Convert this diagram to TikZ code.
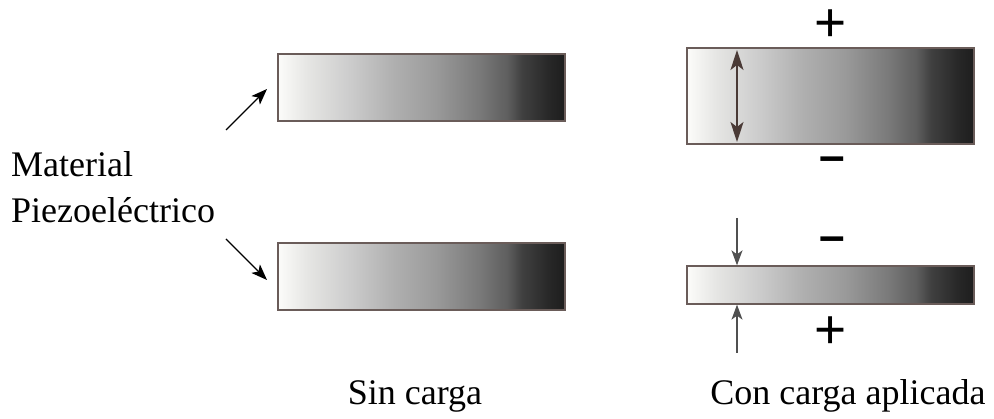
\documentclass[tikz,border=0pt]{standalone}
\usepackage{fontspec}
\setmainfont{Liberation Serif}
\newfontfamily\serifx{Liberation Serif}
\newfontfamily\signfont{Liberation Sans}
\usetikzlibrary{arrows.meta}
\definecolor{g0}{HTML}{FCFCFA}
\definecolor{g1}{HTML}{E6E6E4}
\definecolor{g2}{HTML}{CCCCCC}
\definecolor{g3}{HTML}{B0B0B0}
\definecolor{g4}{HTML}{9A9A9A}
\definecolor{g5}{HTML}{7A7A7A}
\definecolor{g6}{HTML}{5E5E5E}
\definecolor{g7}{HTML}{404040}
\definecolor{g8}{HTML}{262626}
\definecolor{g9}{HTML}{1E1E1E}
\definecolor{edge}{HTML}{6A5C59}
\definecolor{darr}{HTML}{4A3A36}
\definecolor{garr}{HTML}{505050}
\pgfdeclarehorizontalshading{piezo}{100bp}{color(0bp)=(g0); color(25bp)=(g0); color(30bp)=(g1); color(37.5bp)=(g2); color(45bp)=(g3); color(52.5bp)=(g4); color(60bp)=(g5); color(65bp)=(g6); color(67.5bp)=(g7); color(72.5bp)=(g8); color(75bp)=(g9); color(100bp)=(g9)}
\tikzset{
  bar/.style={rectangle, draw=edge, line width=1.3pt, shading=piezo, inner sep=0pt, minimum width=287pt},
  lbl/.style={font=\serifx\fontsize{36}{43}\selectfont, inner sep=0pt, anchor=base},
  sign/.style={font=\signfont\fontsize{55}{55}\selectfont, inner sep=0pt},
  msign/.style={font=\signfont\bfseries\fontsize{46}{46}\selectfont, inner sep=0pt},
  ptr/.style={-{Stealth[length=16pt,width=12pt,inset=4pt]}, line width=1.3pt, black},
  dbl/.style={{Stealth[length=20pt,width=13pt,inset=5pt]}-{Stealth[length=20pt,width=13pt,inset=5pt]}, line width=1.6pt, darr},
  press/.style={-{Stealth[length=15pt,width=11pt,inset=4pt]}, line width=1.3pt, garr}
}
\begin{document}
\begin{tikzpicture}[x=1pt,y=-1pt]
\useasboundingbox (0,0) rectangle (994,419);
% bars
\node[bar, minimum height=67pt] (s1) at (421.5,87.5) {};
\node[bar, minimum height=67pt] (s2) at (421.5,276.5) {};
\node[bar, minimum height=96pt] (c1) at (830.5,96) {};
\node[bar, minimum height=38pt] (c2) at (830.5,285) {};
% labels
\node[lbl, anchor=base west] (m1) at (11,177) {Material};
\node[lbl, anchor=base west] (m2) at (11,223) {Piezoeléctrico};
\node[lbl] (t1) at (415,405) {Sin carga};
\node[lbl] (t2) at (848,405) {Con carga aplicada};
% pointer arrows
\coordinate (a1s) at (226,130);
\coordinate (a1e) at (267,89);
\coordinate (a2s) at (226,239);
\coordinate (a2e) at (267,280);
\draw[ptr] (a1s) -- (a1e);
\draw[ptr] (a2s) -- (a2e);
% signs
\node[sign] (p1) at (830.5,25.5) {+};
\node[msign] (n1) at (832,164.5) {–};
\node[msign] (n2) at (832,244.5) {–};
\node[sign] (p2) at (830.5,333) {+};
% double arrow (thickness)
\coordinate (d1) at (737,50);
\coordinate (d2) at (737,142);
\draw[dbl] (d1) -- (d2);
% compression arrows
\coordinate (u1) at (737,218);
\coordinate (u2) at (737,353);
\draw[press] (u1) -- (c2.north -| u1);
\draw[press] (u2) -- (c2.south -| u2);
\end{tikzpicture}
\end{document}
